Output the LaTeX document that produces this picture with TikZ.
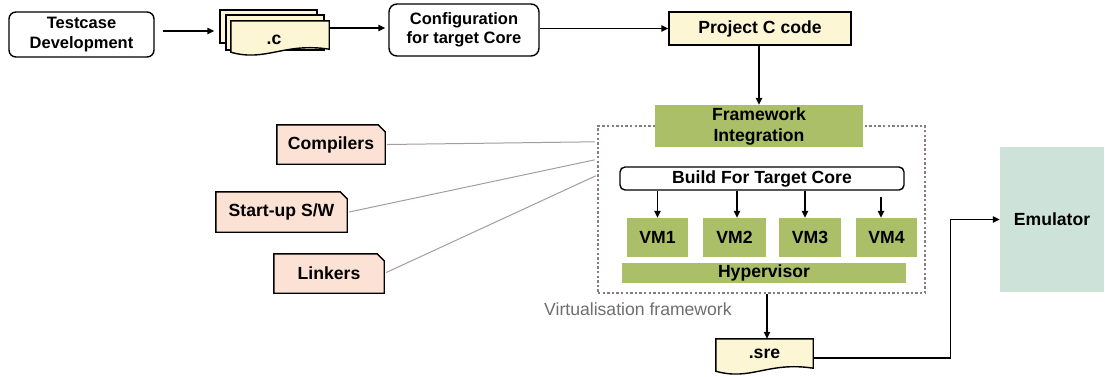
\documentclass[tikz,border=0pt]{standalone}
\usepackage{fontspec}
\setmainfont{Liberation Sans}
\usetikzlibrary{arrows.meta,calc}

\definecolor{cream}{HTML}{FDF6D5}
\definecolor{peach}{HTML}{FBE2D5}
\definecolor{olive}{HTML}{AABF68}
\definecolor{mint}{HTML}{CDE3DA}
\definecolor{framecol}{HTML}{8A7A82}
\definecolor{linkcol}{HTML}{A89BA0}
\definecolor{caption}{HTML}{6E6E6E}

\tikzset{
  lbl/.style={font=\fontsize{17.6}{21}\selectfont\bfseries, align=center, inner sep=0pt},
  lblsmall/.style={font=\fontsize{16.5}{19.5}\selectfont\bfseries, align=center, inner sep=0pt},
  roundbox/.style={draw=black, fill=white, line width=1.4pt, rounded corners=7pt},
  plainbox/.style={draw=black, line width=1.4pt},
  greenbox/.style={fill=olive},
  docline/.style={draw=black, line width=1.4pt},
  arr/.style={-{Triangle[length=7pt,width=6.5pt]}, line width=1.4pt, black},
  link/.style={draw=linkcol, line width=1pt},
  vframe/.style={draw=framecol, line width=2.4pt, dash pattern=on 2.4pt off 2.2pt},
}

% page with a wavy lower edge, drawn round a named node
\newcommand\wavepage[2]{%
  \path[docline, fill=#2]
    ($(#1.south west)+(0,-4)$) -- (#1.north west) -- (#1.north east)
    -- ($(#1.south east)+(0,-7)$)
    .. controls ($(#1.south east)+(-45,-14)$) and ($(#1.south west)+(35,6)$)
    .. ($(#1.south west)+(0,-4)$) -- cycle;}

% note with a cut top-right corner
\newcommand\notebox[1]{%
  \path[docline, fill=peach]
    (#1.south west) -- (#1.north west) -- ($(#1.north east)+(-7,0)$)
    -- ($(#1.north east)+(0,7)$) -- (#1.south east) -- cycle;}

\begin{document}
\begin{tikzpicture}[x=1pt, y=-1pt]
\useasboundingbox (0,0) rectangle (1105,376);

% ---- top row ----
\node[roundbox, lblsmall, minimum width=145pt, minimum height=45pt] (tc) at (81.5,34.5) {Testcase\\Development};

% stack of .c files
\node[plainbox, fill=cream, minimum width=97pt, minimum height=33pt] (cback) at (268.5,26.5) {};
\node[plainbox, fill=cream, minimum width=98pt, minimum height=35pt] (cmid) at (275,32.5) {};
\node[lbl, minimum width=98pt, minimum height=35pt] (cfront) at (280,38.5) {};
\wavepage{cfront}{cream}
\node[lbl] (ctext) at ($(cfront)+(-6,1.5)$) {.c};

\node[roundbox, lblsmall, rounded corners=8pt, minimum width=150pt, minimum height=52pt] (cfg) at (464,30) {Configuration\\for target Core};

\node[plainbox, fill=cream, lbl, minimum width=182pt, minimum height=33pt] (prj) at (760,28.5) {Project C code};

\coordinate (tcout) at ($(tc.east)+(8,-3.5)$);
\draw[arr, shorten >=5pt] (tcout) -- (tcout -| cback.west);
\coordinate (cout) at (330,28);
\draw[arr, shorten >=3pt] (cout) -- (cout -| cfg.west);
\draw[arr] (cfg.east |- prj.west) -- (prj.west);

% ---- virtualisation framework ----
\node[vframe, minimum width=327pt, minimum height=167pt] (vf) at (761.5,209.5) {};
\node[greenbox, lbl, minimum width=208pt, minimum height=42pt] (fw) at (759,126) {Framework\\Integration};
\draw[arr] (prj.south -| fw.north) -- (fw.north);

\node[roundbox, lbl, rounded corners=5pt, minimum width=284pt, minimum height=23pt] (build) at (762,178.5) {Build For Target Core};

\node[greenbox, lbl, minimum width=61pt, minimum height=39pt] (vm1) at (657.5,237.5) {VM1};
\node[greenbox, lbl, minimum width=63pt, minimum height=39pt] (vm2) at (734.5,237.5) {VM2};
\node[greenbox, lbl, minimum width=62pt, minimum height=39pt] (vm3) at (810,237.5) {VM3};
\node[greenbox, lbl, minimum width=61pt, minimum height=39pt] (vm4) at (886.5,237.5) {VM4};

\draw[arr] (vm1.north |- build.south) -- (vm1.north);
\draw[arr] ([xshift=2.5pt]vm2.north |- build.south) -- ([xshift=2.5pt]vm2.north);
\draw[arr] ([xshift=-5pt]vm3.north |- build.south) -- ([xshift=-5pt]vm3.north);
\draw[arr] ([xshift=-5.5pt,yshift=-6pt]vm4.north |- build.south) -- ([xshift=-5.5pt]vm4.north);

\node[greenbox, lbl, minimum width=284pt, minimum height=20pt] (hyp) at (764,273) {Hypervisor};

\node[anchor=west, inner sep=0pt, text=caption, font=\fontsize{17.6}{21}\selectfont] (vlab) at (544,309) {Virtualisation framework};

% ---- tool notes ----
\node[lbl, minimum width=108pt, minimum height=39pt] (comp) at (331,144.5) {};
\notebox{comp}
\node[lbl] (comptext) at (comp) {Compilers};
\node[lbl, minimum width=131pt, minimum height=40pt] (su) at (281.5,212) {};
\notebox{su}
\node[lbl] (sutext) at (su) {Start-up S/W};
\node[lbl, minimum width=110pt, minimum height=39pt] (lnk) at (329,273.5) {};
\notebox{lnk}
\node[lbl] (lnktext) at (lnk) {Linkers};

\coordinate (f1) at ($(vf.north west)+(-2,17)$);
\coordinate (f2) at ($(vf.north west)+(-2,35)$);
\coordinate (f3) at ($(vf.north west)+(-1,51)$);
\draw[link] ([xshift=2pt]comp.east) -- (f1);
\draw[link] ([xshift=2pt]su.east) -- (f2);
\draw[link] ([xshift=2pt,yshift=1pt]lnk.east) -- (f3);

% ---- output ----
\node[lbl, minimum width=97pt, minimum height=36pt] (sre) at (764.5,357) {};
\wavepage{sre}{cream}
\node[lbl] (sretext) at ($(sre)+(0,-3)$) {.sre};
\draw[arr] ([xshift=2.5pt]sre.north |- vf.south) -- ([xshift=2.5pt]sre.north);

\node[fill=mint, lbl, minimum width=104pt, minimum height=145pt] (emu) at (1052,219.5) {Emulator};
\draw[arr] ($(sre.east)+(0,1)$) -- ++(137,0) |- (emu.west);
\end{tikzpicture}
\end{document}
